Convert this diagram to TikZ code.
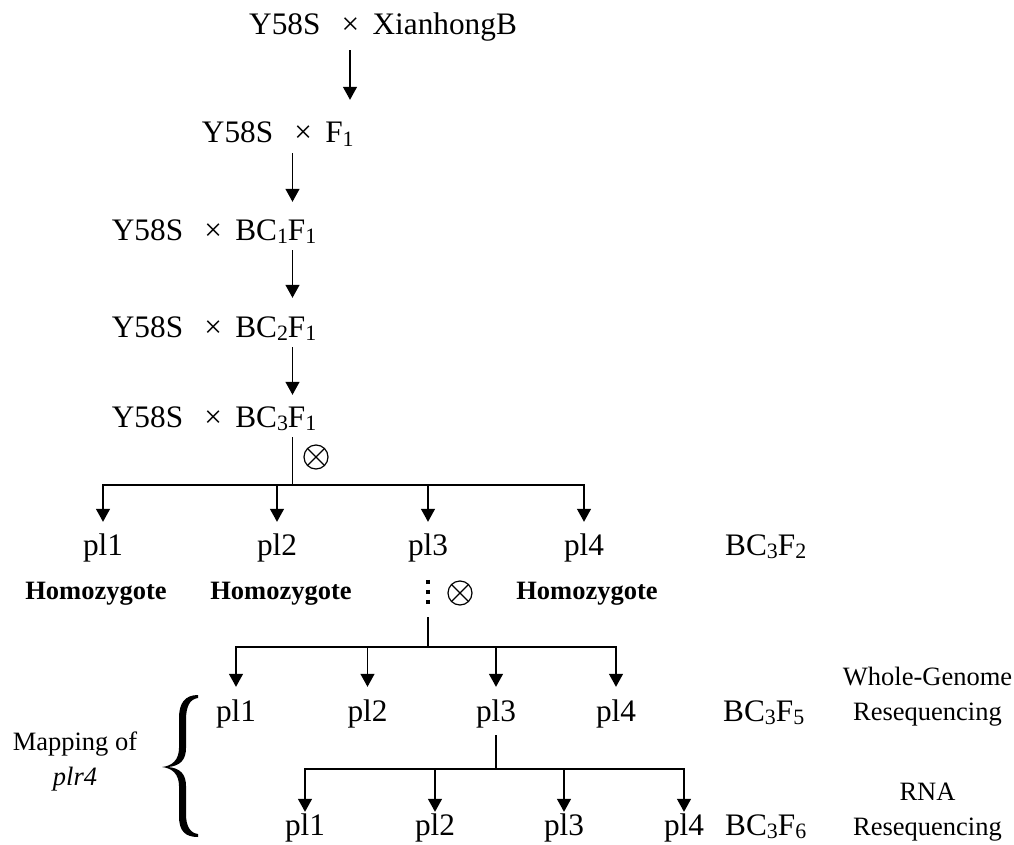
\documentclass[tikz,border=0pt]{standalone}
\usepackage{fontspec}
\setmainfont{Liberation Serif}
\usetikzlibrary{arrows.meta}
\newcommand{\sbs}[1]{\raisebox{-3.5pt}{\fontsize{21.9}{22}\selectfont #1}}
\newcommand{\bigfont}{\fontsize{31.3}{36}\selectfont}
\newcommand{\smallfont}{\fontsize{26.5}{35}\selectfont}
\newcommand{\crs}[1]{Y58S\hspace{21.2pt}×\hspace{13.2pt}#1}
\begin{document}
\begin{tikzpicture}[x=1pt,y=-1pt,
  lbl/.style={font=\bigfont, inner sep=0pt, anchor=base},
  row/.style={font=\bigfont, inner sep=0pt, anchor=base west},
  note/.style={font=\smallfont, inner sep=0pt, align=center, anchor=base},
  hom/.style={font=\smallfont\bfseries, inner sep=0pt, anchor=base},
  link/.style={line width=1.3pt},
  arr/.style={link, -{Triangle[length=13pt,width=14pt]}},
  dots/.style={line width=4.5pt, dash pattern=on 4.5pt off 5.5pt},
  selfing/.style={circle, draw, line width=1.2pt, inner sep=0pt, minimum size=24pt,
    path picture={\draw[line width=1.2pt]
      (path picture bounding box.north west) -- (path picture bounding box.south east)
      (path picture bounding box.north east) -- (path picture bounding box.south west);}},
]
\useasboundingbox (0,0) rectangle (1014,845);

% backcross chain
\node[row, text depth=15pt] (r1) at (249,35) {\crs{XianhongB}};
\node[row, text height=43pt, text depth=10pt] (r2) at (201.7,143) {\crs{F\sbs{1}}};
\node[row, text height=38pt, text depth=10pt] (r3) at (111.7,240) {\crs{BC\sbs{1}F\sbs{1}}};
\node[row, text height=39pt, text depth=10pt] (r4) at (111.7,337) {\crs{BC\sbs{2}F\sbs{1}}};
\node[row, text height=32pt, text depth=10pt] (r5) at (111.7,427) {\crs{BC\sbs{3}F\sbs{1}}};

\coordinate (c1) at (350,0);
\coordinate (c2) at (292.5,0);
\draw[arr] (r1.south -| c1) -- (r2.north -| c1);
\draw[arr] (r2.south -| c2) -- (r3.north -| c2);
\draw[arr] (r3.south -| c2) -- (r4.north -| c2);
\draw[arr] (r4.south -| c2) -- (r5.north -| c2);

% BC3F2
\coordinate (h1) at (292.5,485);
\draw[link] (r5.south -| c2) -- (h1);
\node[selfing] (x1) at (316,457) {};
\node[lbl, text height=33pt, text depth=24.75pt] (a1) at (103,555) {pl1};
\node[lbl, text height=33pt, text depth=24.75pt] (a2) at (277,555) {pl2};
\node[lbl, text height=33pt, text depth=24.75pt] (a3) at (428,555) {pl3};
\node[lbl, text height=33pt, text depth=24.75pt] (a4) at (584,555) {pl4};
\node[row] (g2) at (725,555) {BC\sbs{3}F\sbs{2}};
\foreach \t in {a1,a2,a3,a4} \draw[arr] (h1) -| (\t.north);

\node[hom] (m1) at (96,599) {Homozygote};
\node[hom] (m2) at (281,599) {Homozygote};
\node[hom] (m4) at (587,599) {Homozygote};

\coordinate (d3) at (428,604.25);
\draw[dots] (a3.south) -- (d3);
\node[selfing] (x2) at (460,593) {};
\coordinate (h2a) at (428,617);
\coordinate (h2) at (428,647);
\draw[link] (h2a) -- (h2);

% BC3F5
\node[lbl, text height=34pt, text depth=14pt] (b1) at (236,721) {pl1};
\node[lbl, text height=34pt, text depth=14pt] (b2) at (367.5,721) {pl2};
\node[lbl, text height=34pt, text depth=14pt] (b3) at (496,721) {pl3};
\node[lbl, text height=34pt, text depth=14pt] (b4) at (616,721) {pl4};
\foreach \t in {b1,b2,b3,b4} \draw[arr] (h2) -| (\t.north);
\node[row] (g5) at (723,721) {BC\sbs{3}F\sbs{5}};
\node[note] (n5) at (927.5,720) {Whole-Genome\\Resequencing};

% BC3F6
\coordinate (h3) at (496,769);
\draw[link] (b3.south) -- (h3);
\node[lbl, text height=23pt] (e1) at (305,835) {pl1};
\node[lbl, text height=23pt] (e2) at (435,835) {pl2};
\node[lbl, text height=23pt] (e3) at (564,835) {pl3};
\node[lbl, text height=23pt] (e4) at (684,835) {pl4};
\foreach \t in {e1,e2,e3,e4} \draw[arr] (h3) -| (\t.north);
\node[row] (g6) at (725,835) {BC\sbs{3}F\sbs{6}};
\node[note] (n6) at (927.5,835) {RNA\\Resequencing};

% mapping brace
\node[note] (mp) at (75,785) {Mapping of\\\textit{plr4}};
\fill (198,695) .. controls (185,695) and (179,703) .. (179,718) -- (179,748)
  .. controls (179,760) and (172,766) .. (162,767)
  .. controls (172,768) and (179,774) .. (179,786) -- (179,816)
  .. controls (179,831) and (185,837) .. (198,837)
  -- (198,834) .. controls (190,833) and (186,826) .. (186,814) -- (186,786)
  .. controls (186,774) and (180,768) .. (168,767)
  .. controls (180,766) and (186,760) .. (186,748) -- (186,720)
  .. controls (186,706) and (190,699) .. (198,698) -- cycle;
\end{tikzpicture}
\end{document}
